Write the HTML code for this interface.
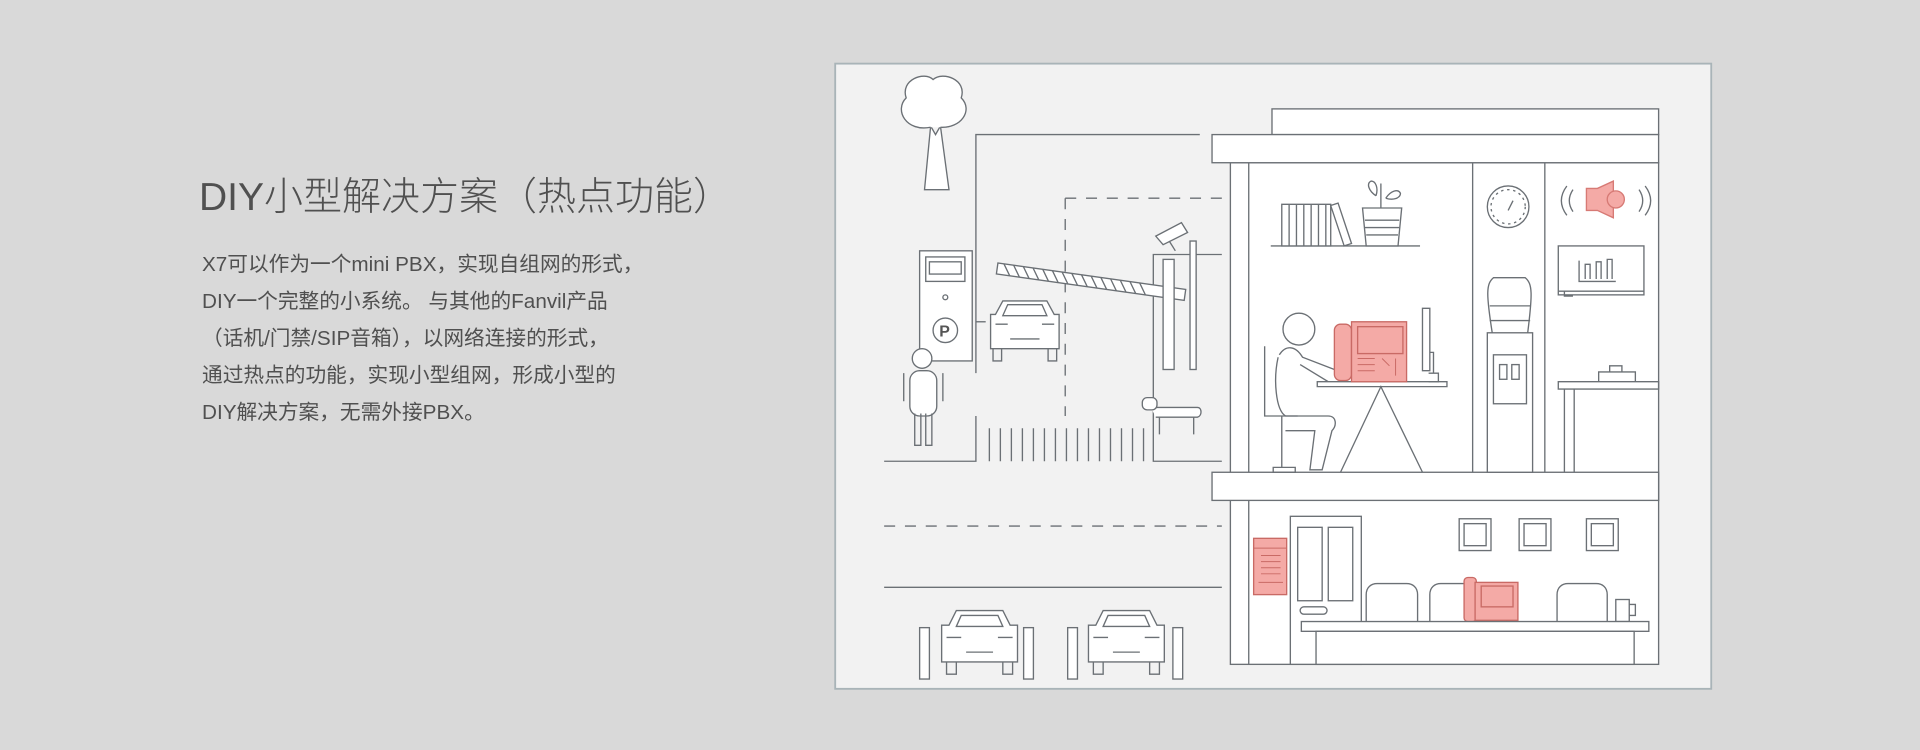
<!DOCTYPE html>
<html><head><meta charset="utf-8">
<style>
html,body{margin:0;padding:0;background:#d9d9d9;width:1920px;height:750px;overflow:hidden;}
.t{position:absolute;left:199px;top:166px;font-family:"Liberation Sans","Noto Sans CJK SC",sans-serif;font-size:39px;color:#505050;font-weight:300;white-space:nowrap;}
.b{position:absolute;left:202px;top:246px;font-family:"Liberation Sans","Noto Sans CJK SC",sans-serif;font-size:20.7px;line-height:37px;color:#505050;white-space:nowrap;}
svg{position:absolute;left:0;top:0;}
</style></head><body>
<div class="t">DIY小型解决方案（热点功能）</div>
<div class="b">X7可以作为一个mini PBX，实现自组网的形式，<br>DIY一个完整的小系统。 与其他的Fanvil产品<br>（话机/门禁/SIP音箱），以网络连接的形式，<br>通过热点的功能，实现小型组网，形成小型的<br>DIY解决方案，无需外接PBX。</div>
<svg width="1920" height="750" viewBox="0 0 1568 613" xmlns="http://www.w3.org/2000/svg">
<g fill="none" stroke="#6b7075" stroke-width="1.1">
<rect x="682" y="52" width="716" height="511" fill="#f2f2f2" stroke="#a9b4b8" stroke-width="1.5"/>
<rect x="1005" y="133" width="350" height="410" fill="#fff"/>
<line x1="1020" y1="133" x2="1020" y2="543"/>
<rect x="1039" y="89" width="316" height="21" fill="#fff"/>
<rect x="990" y="110" width="365" height="23" fill="#fff"/>
<rect x="990" y="386" width="365" height="23" fill="#fff"/>
<line x1="1203" y1="133" x2="1203" y2="386"/><line x1="1262" y1="133" x2="1262" y2="386"/>
<polyline points="980,110 797,110 797,305"/><polyline points="797,340 797,377 722,377"/>
<path d="M870 162 H998 M870 162 V340" stroke-dasharray="9 8"/>
<polyline points="998,208 942,208 942,377 998,377"/>
<path d="M722 430 H998" stroke-dasharray="9 8"/>
<line x1="722" y1="480" x2="998" y2="480"/>
<path d="M808 350V377M817 350V377M826 350V377M835 350V377M844 350V377M853 350V377M862 350V377M871 350V377M880 350V377M889 350V377M898 350V377M907 350V377M916 350V377M925 350V377M934 350V377"/>
<path d="M755 155 L760 103 L764 110 L768 103 L775 155 Z" fill="#fff"/>
<path d="M760 104 C740 108 730 90 740 80 C735 65 755 58 762 65 C770 58 790 65 785 80 C795 90 785 105 768 104" fill="#fff"/>
<rect x="751" y="205" width="43" height="90" fill="#fff"/>
<rect x="756" y="210" width="32" height="20"/><rect x="759" y="214" width="26" height="10"/>
<circle cx="772" cy="243" r="2"/><circle cx="772" cy="270" r="10"/>
<text x="767" y="275" font-family="Liberation Sans" font-size="13" font-weight="bold" fill="#555" stroke="none">P</text>
<circle cx="753" cy="293" r="8" fill="#fff"/>
<rect x="743" y="303" width="22" height="37" rx="8" fill="#fff"/>
<path d="M747 338V364H752V338M756 338V364H761V338"/>
<path d="M738 305V328M770 305V328"/>
<g transform="translate(805,243)">
<path d="M8 14 L14 3 H50 L56 14 H60 V42 H4 V14 Z" fill="#fff"/>
<path d="M14 15 L18 6 H46 L50 15 Z"/><path d="M8 22H18M46 22H56M20 34H44"/>
<path d="M6 42V52H13V42M51 42V52H58V42"/><path d="M0 20 L-8 20"/>
</g>
<g transform="rotate(8 815 215)"><rect x="815" y="215" width="155" height="9" fill="#fff"/>
<path d="M820 215l6 9M828 215l6 9M836 215l6 9M844 215l6 9M852 215l6 9M860 215l6 9M868 215l6 9M876 215l6 9M884 215l6 9M892 215l6 9M900 215l6 9M908 215l6 9M916 215l6 9M924 215l6 9M932 215l6 9"/></g>
<rect x="950" y="212" width="9" height="90" fill="#fff"/><rect x="972" y="197" width="5" height="105" fill="#fff"/>
<path d="M944 193 L965 182 L970 190 L950 200 Z" fill="#fff"/><path d="M955 197 L960 205"/>
<path d="M940 333 H978 C982 333 982 340 978 341 H944" fill="#fff"/><rect x="933" y="325" width="12" height="10" rx="4" fill="#fff"/><path d="M947 341V355M975 341V355"/>
<g fill="#fff">
<rect x="751" y="513" width="8" height="42"/><rect x="836" y="513" width="8" height="42"/>
<rect x="872" y="513" width="8" height="42"/><rect x="958" y="513" width="8" height="42"/>
</g>
<g transform="translate(767,497)"><path d="M8 14 L14 2 H52 L58 14 H64 V44 H2 V14 Z" fill="#fff"/><path d="M14 15 L18 6 H48 L52 15 Z"/><path d="M6 24H18M48 24H60M22 36H44"/><path d="M6 44V54H14V44M52 44V54H60V44"/></g>
<g transform="translate(887,497)"><path d="M8 14 L14 2 H52 L58 14 H64 V44 H2 V14 Z" fill="#fff"/><path d="M14 15 L18 6 H48 L52 15 Z"/><path d="M6 24H18M48 24H60M22 36H44"/><path d="M6 44V54H14V44M52 44V54H60V44"/></g>
<line x1="1038" y1="201" x2="1160" y2="201"/>
<path d="M1047 167H1087V201H1047ZM1053 167V201M1059 167V201M1065 167V201M1071 167V201M1077 167V201M1083 167V201" fill="#fff"/>
<path d="M1087 168 L1093 166 L1104 199 L1098 201 Z" fill="#fff"/>
<path d="M1113 170H1145L1142 201H1116Z" fill="#fff"/><path d="M1115 180H1143M1115 186H1143M1116 192H1142"/>
<path d="M1128 170V150M1124 160c-6-4-8-10-4-12c4 0 6 6 4 12M1132 162c4-6 10-8 12-4c0 4-6 6-12 4"/>
<circle cx="1232" cy="169" r="17"/><circle cx="1232" cy="169" r="14" stroke-dasharray="2 3"/><path d="M1232 172 L1236 164"/>
<path d="M1280 152c-6 8-6 16 0 24M1285 155c-4 6-4 12 0 18M1344 152c6 8 6 16 0 24M1339 155c4 6 4 12 0 18"/>
<path d="M1296 154H1305L1318 148V178L1305 172H1296Z" fill="#f4aaa6" stroke="#d77a75"/><circle cx="1320" cy="163" r="7" fill="#f4aaa6" stroke="#d77a75"/>
<rect x="1273" y="201" width="70" height="40" fill="#fff"/><path d="M1273 238H1343M1278 238V242H1285"/>
<path d="M1290 213V230H1320M1295 228V216H1299V228M1304 228V214H1308V228M1313 228V212H1317V228"/>
<rect x="1215" y="272" width="37" height="114" fill="#fff"/>
<path d="M1219 272 C1214 240 1214 232 1220 227 H1246 C1252 232 1252 240 1248 272"/><path d="M1217 250H1250M1217 262H1250"/>
<rect x="1220" y="290" width="27" height="40"/><rect x="1225" y="298" width="6" height="12"/><rect x="1235" y="298" width="6" height="12"/>
<path d="M1273 312H1355V318H1273ZM1278 318V386M1286 318V386"/>
<path d="M1306 312V304H1336V312M1315 304V299H1325V304"/>
<circle cx="1061" cy="269" r="13" fill="#fff"/>
<path d="M1045 290 C1050 282 1058 282 1064 292 L1090 302 M1062 298 L1085 312" fill="#fff"/>
<path d="M1044 292 C1040 310 1042 335 1050 340 H1085 C1092 340 1092 348 1088 352 L1080 384 L1070 384 L1074 352 H1050" fill="#fff"/>
<path d="M1033 283V340H1060M1047 340V382M1040 382H1058V386H1040Z"/>
<path d="M1076 312H1182V316H1076Z" fill="#fff"/>
<path d="M1095 386 L1128 316 L1162 386"/>
<path d="M1162 252H1168V303H1162ZM1168 288H1171V305M1167 305H1175V312H1167"/>
<g stroke="#c96a65" fill="#f4aaa6">
<rect x="1090" y="265" width="14" height="46" rx="5"/>
<rect x="1104" y="263" width="45" height="49"/>
<rect x="1109" y="267" width="37" height="22"/>
</g>
<g stroke="#c96a65" stroke-width="0.8"><path d="M1109 293h14M1109 298h14M1109 303h14M1129 293l6 6M1140 293v14"/></g>
<rect x="1024" y="440" width="27" height="46" fill="#f4aaa6" stroke="#c96a65"/>
<g stroke="#c96a65" stroke-width="0.8"><path d="M1024 448H1051M1030 454h16M1030 459h16M1030 464h16M1030 469h16M1028 476h20"/></g>
<rect x="1054" y="422" width="58" height="121" fill="#fff"/>
<rect x="1060" y="431" width="20" height="60"/><rect x="1085" y="431" width="20" height="60"/>
<rect x="1062" y="496" width="22" height="6" rx="3"/>
<rect x="1192" y="424" width="26" height="26"/><rect x="1196" y="428" width="18" height="18"/>
<rect x="1241" y="424" width="26" height="26"/><rect x="1245" y="428" width="18" height="18"/>
<rect x="1296" y="424" width="26" height="26"/><rect x="1300" y="428" width="18" height="18"/>
<path d="M1116 508V486c0-6 4-9 9-9h24c5 0 9 3 9 9v22"/>
<path d="M1168 508V486c0-6 4-9 9-9h45c5 0 9 3 9 9v22"/>
<path d="M1272 508V486c0-6 4-9 9-9h23c5 0 9 3 9 9v22"/>
<rect x="1320" y="490" width="11" height="18" fill="#fff"/><path d="M1331 494h5v9h-5"/>
<g stroke="#c96a65" fill="#f4aaa6"><rect x="1196" y="472" width="10" height="36" rx="3"/><rect x="1205" y="476" width="35" height="31"/><rect x="1210" y="479" width="26" height="17"/></g>
<rect x="1063" y="508" width="284" height="8" fill="#fff"/>
<rect x="1075" y="516" width="260" height="27" fill="#fff"/>
</g>
</svg>
</body></html>
